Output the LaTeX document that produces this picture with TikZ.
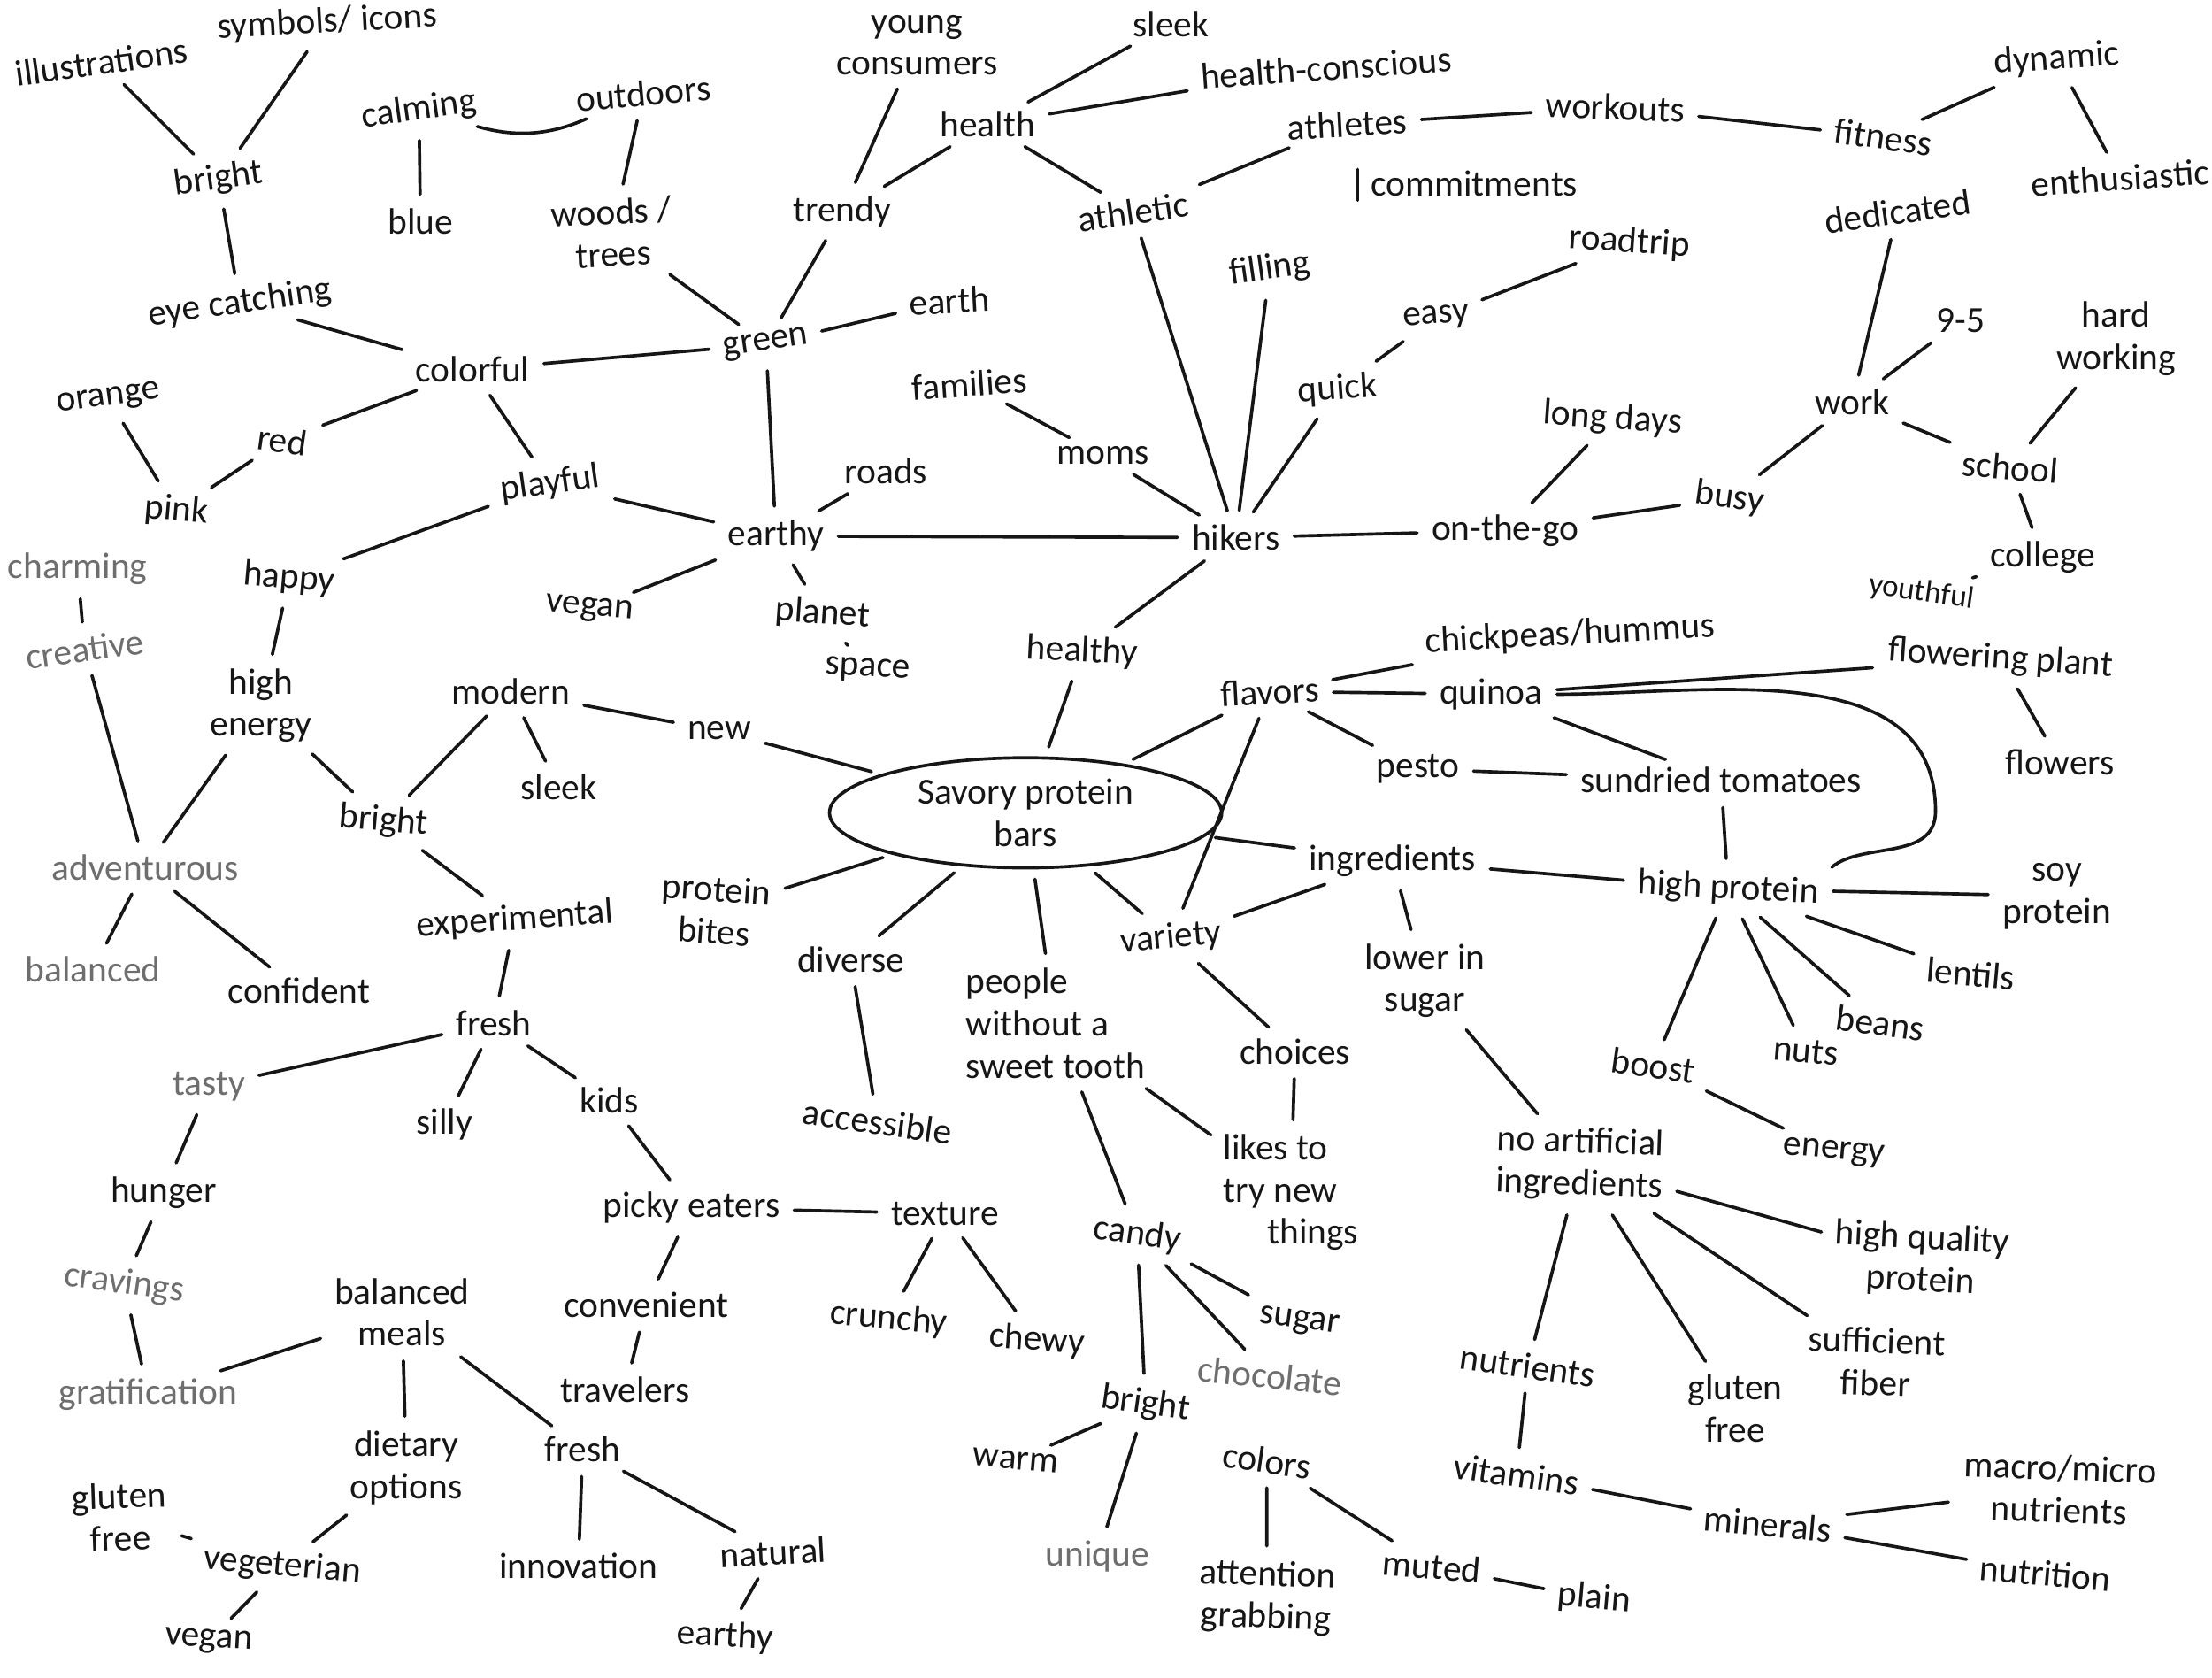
\documentclass[tikz,border=0pt]{standalone}
\usepackage{fontspec}
\setmainfont{Carlito}
\usetikzlibrary{shapes.geometric}
\definecolor{ink}{HTML}{161616}
\definecolor{grayink}{HTML}{6E6E6E}
\begin{document}
\begin{tikzpicture}[x=1pt,y=-1pt,
  w/.style={text=ink, inner sep=3pt, font=\fontsize{26}{30}\selectfont, align=center},
  g/.style={w, text=grayink},
  ln/.style={draw=ink, line width=2.3pt, line cap=round, shorten <=7pt, shorten >=7pt}]
\fill[white] (0,0) rectangle (1568,1189);
\useasboundingbox (0,0) rectangle (1568,1189);
% ---------- nodes ----------
\node[w,rotate=8] (ill) at (72,44) {illustrations};
\node[w,rotate=3] (sym) at (232,16) {symbols/ icons};
\node[w,rotate=8] (bri1) at (155,127) {bright};
\node[w,rotate=8] (eye) at (170,215) {eye catching};
\node[w,rotate=8] (calm) at (297,78) {calming};
\node[w,rotate=5] (outd) at (456,66) {outdoors};
\node[w] (blue) at (298,157) {blue};
\node[w,rotate=3] (woods) at (434,165) {woods /\\ trees};
\node[w] (young) at (650,32) {young\\consumers};
\node[w] (sleekA) at (830,17) {sleek};
\node[w] (health) at (700,88) {health};
\node[w,rotate=4] (hc) at (940,48) {health-conscious};
\node[w,rotate=3] (athletes) at (955,88) {athletes};
\node[w,rotate=-2] (workouts) at (1145,76) {workouts};
\node[w,rotate=-8] (fitness) at (1335,97) {fitness};
\node[w,rotate=4] (dynamic) at (1458,42) {dynamic};
\node[w,rotate=4] (enth) at (1503,126) {enthusiastic};
\node[w] (commit) at (1045,130) {commitments};
\node[w] (trendy) at (597,150) {trendy};
\node[w,rotate=8] (athletic) at (803,150) {athletic};
\node[w,rotate=8] (dedic) at (1345,150) {dedicated};
\node[w] (colorful) at (335,262) {colorful};
\node[w,rotate=8] (green) at (543,244) {green};
\node[w,rotate=3] (earth) at (673,213) {earth};
\node[w,rotate=8] (filling) at (900,191) {filling};
\node[w,rotate=-4] (roadtrip) at (1155,172) {roadtrip};
\node[w,rotate=4] (easy) at (1018,225) {easy};
\node[w] (n95) at (1390,227) {9-5};
\node[w] (hardw) at (1500,240) {hard\\working};
\node[w,rotate=8] (orange) at (77,283) {orange};
\node[w,rotate=-8] (red) at (200,312) {red};
\node[w,rotate=4] (families) at (687,272) {families};
\node[w,rotate=4] (quick) at (948,276) {quick};
\node[w,rotate=-4] (longdays) at (1143,297) {long days};
\node[w] (work) at (1313,285) {work};
\node[w,rotate=-5] (pink) at (125,362) {pink};
\node[w,rotate=8] (playful) at (390,343) {playful};
\node[w] (roads) at (628,334) {roads};
\node[w] (moms) at (782,323) {moms};
\node[w,rotate=-8] (busy) at (1226,353) {busy};
\node[w,rotate=-5] (school) at (1425,331) {school};
\node[g] (charming) at (55,403) {charming};
\node[w,rotate=-5] (happy) at (205,410) {happy};
\node[w] (earthyA) at (550,380) {earthy};
\node[w] (hikers) at (876,381) {hikers};
\node[w] (onthego) at (1067,376) {on-the-go};
\node[w] (college) at (1448,395) {college};
\node[g,rotate=8] (creative) at (60,460) {creative};
\node[w,rotate=-5] (veganA) at (418,432) {vegan};
\node[w,rotate=-4] (planet) at (583,435) {planet};
\node[w,rotate=-3] (space) at (615,475) {space};
\node[w,rotate=-8,font=\fontsize{22}{22}\selectfont] (youthful) at (1362,420) {youthful};
\node[w,rotate=-3] (healthy) at (767,462) {healthy};
\node[w,rotate=3] (chick) at (1113,450) {chickpeas/hummus};
\node[w,rotate=-4] (flowering) at (1418,467) {flowering plant};
\node[w] (highenergy) at (185,500) {high\\energy};
\node[w] (modern) at (362,490) {modern};
\node[w] (new) at (510,518) {new};
\node[w,rotate=3] (flavors) at (900,490) {flavors};
\node[w] (quinoa) at (1057,492) {quinoa};
\node[w] (flowers) at (1460,540) {flowers};
\node[w] (sleekB) at (396,558) {sleek};
\node[w,rotate=-5] (brightB) at (272,582) {bright};
\node[w,draw=ink,line width=2.3pt,ellipse,minimum width=278pt,minimum height=78pt,inner sep=0pt] (savory) at (727,576) {Savory protein\\bars};
\node[w] (pesto) at (1005,545) {pesto};
\node[w] (sundried) at (1220,553) {sundried tomatoes};
\node[g] (advent) at (103,615) {adventurous};
\node[w] (ingred) at (987,610) {ingredients};
\node[w,rotate=-3] (highprot) at (1225,630) {high protein};
\node[w] (soy) at (1458,635) {soy\\protein};
\node[w,rotate=4] (exper) at (365,652) {experimental};
\node[w,rotate=-4] (pbites) at (507,645) {protein\\bites};
\node[w] (diverse) at (603,680) {diverse};
\node[w,align=left] (people) at (748,725) {people\\without a\\sweet tooth};
\node[w,rotate=5] (variety) at (830,665) {variety};
\node[w] (lower) at (1010,695) {lower in\\sugar};
\node[w,rotate=-5] (lentils) at (1397,690) {lentils};
\node[g] (balancedA) at (66,687) {balanced};
\node[w] (confident) at (212,702) {confident};
\node[w] (freshA) at (350,725) {fresh};
\node[w,rotate=-8] (beans) at (1333,725) {beans};
\node[w,rotate=-5] (nuts) at (1280,745) {nuts};
\node[w,rotate=-8] (boost) at (1172,755) {boost};
\node[w] (choices) at (918,745) {choices};
\node[g] (tasty) at (148,770) {tasty};
\node[w] (silly) at (315,797) {silly};
\node[w] (kids) at (432,780) {kids};
\node[w,rotate=-8] (accessible) at (622,795) {accessible};
\node[w,rotate=-5] (energy) at (1300,817) {energy};
\node[w,align=left] (likes) at (915,845) {likes to\\try new\\\hspace{1.2em}things};
\node[w,rotate=-2] (noart) at (1120,825) {no artificial\\ingredients};
\node[w] (hunger) at (116,845) {hunger};
\node[w] (picky) at (490,856) {picky eaters};
\node[w] (texture) at (670,860) {texture};
\node[w,rotate=-8] (candy) at (806,875) {candy};
\node[w,rotate=-3] (hqp) at (1362,893) {high quality\\protein};
\node[g,rotate=-8] (cravings) at (88,910) {cravings};
\node[w] (balmeals) at (285,930) {balanced\\meals};
\node[w] (conv) at (458,925) {convenient};
\node[w,rotate=-5] (crunchy) at (630,935) {crunchy};
\node[w,rotate=-4] (chewy) at (735,950) {chewy};
\node[w,rotate=-8] (sugar) at (921,937) {sugar};
\node[w,rotate=-2] (fiber) at (1330,965) {sufficient\\fiber};
\node[w,rotate=-8] (nutrients) at (1083,968) {nutrients};
\node[w] (glutenB) at (1230,998) {gluten\\free};
\node[g,rotate=-6] (choc) at (900,975) {chocolate};
\node[g] (gratif) at (105,988) {gratification};
\node[w] (travelers) at (443,985) {travelers};
\node[w,rotate=-8] (brightC) at (812,995) {bright};
\node[w,rotate=-8] (colors) at (898,1035) {colors};
\node[w] (dietary) at (288,1040) {dietary\\options};
\node[w] (freshB) at (413,1027) {fresh};
\node[w,rotate=-5] (warm) at (720,1035) {warm};
\node[w,rotate=-8] (vitamins) at (1075,1045) {vitamins};
\node[w,rotate=-5] (minerals) at (1253,1080) {minerals};
\node[w,rotate=-2] (macro) at (1460,1055) {macro/micro\\nutrients};
\node[w,rotate=2] (glutenA) at (85,1075) {gluten\\free};
\node[w,rotate=-5] (vegetarian) at (200,1110) {vegeterian};
\node[w] (innovation) at (410,1110) {innovation};
\node[w,rotate=3] (natural) at (548,1100) {natural};
\node[g] (unique) at (778,1103) {unique};
\node[w,rotate=-2] (attention) at (898,1132) {attention\\grabbing};
\node[w,rotate=-5] (muted) at (1015,1110) {muted};
\node[w,rotate=-5] (plain) at (1130,1133) {plain};
\node[w,rotate=-5] (nutrition) at (1450,1115) {nutrition};
\node[w,rotate=-3] (veganB) at (148,1163) {vegan};
\node[w,rotate=-3] (earthyB) at (514,1160) {earthy};
\coordinate (qloop) at (1372,575);
% ---------- connectors ----------
\foreach \a/\b in {ill/bri1, sym/bri1, bri1/eye, eye/colorful, calm/blue, outd/woods, woods/green,
  colorful/green, young/trendy, trendy/health, trendy/green, sleekA/health, hc/health, health/athletic,
  athletic/athletes, athletes/workouts, workouts/fitness, fitness/dynamic, dynamic/enth, athletic/hikers,
  green/earth, green/earthyA, colorful/playful, colorful/red, red/pink, orange/pink, playful/earthyA,
  playful/happy, happy/highenergy, charming/creative, creative/advent, highenergy/advent, highenergy/brightB,
  advent/balancedA, advent/confident, filling/hikers, quick/hikers, quick/easy, easy/roadtrip, families/moms,
  moms/hikers, earthyA/hikers, earthyA/roads, earthyA/veganA, earthyA/planet, planet/space, hikers/onthego,
  onthego/longdays, onthego/busy, busy/work, work/dedic, work/n95, work/school, school/hardw, school/college,
  college/youthful, hikers/healthy, healthy/savory, modern/new, new/savory, modern/sleekB, modern/brightB,
  brightB/exper, savory/flavors, flavors/chick, flavors/quinoa, quinoa/flowering, flowering/flowers,
  quinoa/sundried, flavors/pesto, pesto/sundried, sundried/highprot, flavors/variety, savory/ingred,
  ingred/highprot, ingred/variety, ingred/lower, highprot/soy, highprot/lentils, highprot/beans, highprot/nuts,
  highprot/boost, boost/energy, savory/pbites, savory/diverse, diverse/accessible, savory/people,
  savory/variety, variety/choices, choices/likes, people/candy, people/likes, lower/noart, noart/hqp,
  noart/fiber, noart/glutenB, noart/nutrients, nutrients/vitamins, vitamins/minerals, minerals/macro,
  minerals/nutrition, candy/sugar, candy/choc, candy/brightC, brightC/warm, brightC/unique, colors/attention,
  colors/muted, muted/plain, exper/freshA, freshA/tasty, freshA/silly, freshA/kids, tasty/hunger,
  hunger/cravings, cravings/gratif, kids/picky, picky/texture, texture/crunchy, texture/chewy, picky/conv,
  conv/travelers, balmeals/gratif, balmeals/dietary, balmeals/freshB, dietary/vegetarian, glutenA/vegetarian,
  vegetarian/veganB, freshB/innovation, freshB/natural, natural/earthyB}
  {\draw[ln] (\a) -- (\b);}
\draw[ln] (calm) to[bend right=20] (outd);
\draw[ln,shorten <=0pt,shorten >=0pt] ([shift={(-6pt,-12pt)}]commit.west) -- ([shift={(-6pt,10pt)}]commit.west);
\draw[ln,shorten >=0pt] (quinoa.east) to[out=0,in=90] (qloop);
\draw[ln,shorten <=0pt] (qloop) to[out=-90,in=40] (highprot.north east);
\end{tikzpicture}
\end{document}
